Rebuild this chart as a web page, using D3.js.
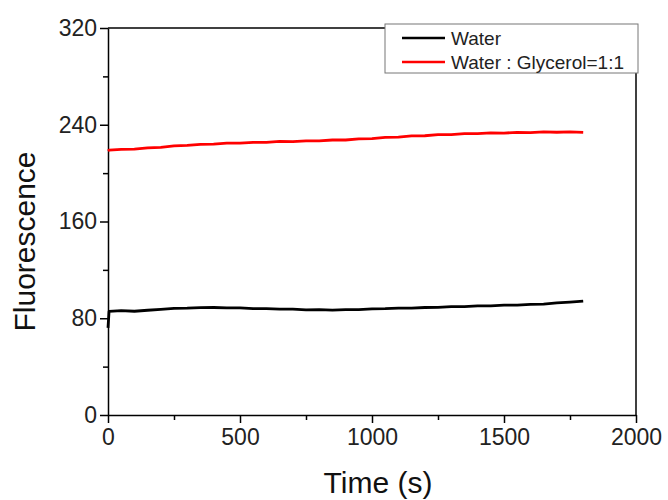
<!DOCTYPE html>
<html lang="en">
<head>
<meta charset="utf-8">
<title>Fluorescence vs Time</title>
<script src="https://cdn.jsdelivr.net/npm/d3@7"></script>
<style>
  body { margin: 0; background: #fff; }
  svg { font-family: "Liberation Sans", Arial, sans-serif; }
  .axis path, .axis line { stroke: #000; stroke-width: 1.5; }
  .axis text { font-size: 23px; fill: #222; font-family: "Liberation Sans", Arial, sans-serif; }
  .series { fill: none; stroke-width: 2.8; stroke-linejoin: round; }
</style>
</head>
<body>
<svg width="668" height="500"></svg>
<script>
// time points (s)
var times = [0, 4, 50, 100, 150, 200, 250, 300, 350, 400, 450, 500, 550, 600, 650, 700,
  750, 800, 850, 900, 950, 1000, 1050, 1100, 1150, 1200, 1250, 1300, 1350, 1400,
  1450, 1500, 1550, 1600, 1650, 1700, 1750, 1800];

var water = [72, 85.6, 86.3, 85.8, 86.6, 87.4, 88.1, 88.3, 88.8, 88.9, 88.5, 88.6, 88.0,
  88.0, 87.5, 87.5, 87.0, 87.1, 86.7, 87.1, 87.2, 87.7, 87.9, 88.4, 88.3, 88.9, 89.0,
  89.6, 89.6, 90.2, 90.3, 90.8, 90.8, 91.4, 91.7, 92.7, 93.3, 94.1];

var waterGlycerol = [218.3, 219.0, 219.6, 219.8, 220.9, 221.3, 222.6, 223.0, 223.8, 223.9,
  224.8, 224.8, 225.5, 225.4, 226.2, 226.0, 226.7, 226.6, 227.4, 227.4, 228.4, 228.6,
  229.6, 229.8, 230.8, 230.9, 231.8, 231.8, 232.6, 232.6, 233.2, 233.1, 233.7, 233.5,
  234.1, 233.8, 234.1, 233.7];

var seriesNames = ["Water", "Water : Glycerol=1:1"];
var seriesColors = ["#000000", "#ff0000"];

var xTicks = [0, 500, 1000, 1500, 2000];
var xMinor = [250, 750, 1250, 1750];
var yTicks = [0, 80, 160, 240, 320];
var yMinor = [40, 120, 200, 280];

var svg = d3.select("svg"),
    margin = {top: 28, right: 32, bottom: 85, left: 108},
    width = +svg.attr("width") - margin.left - margin.right,
    height = +svg.attr("height") - margin.top - margin.bottom,
    g = svg.append("g").attr("transform", "translate(" + margin.left + "," + margin.top + ")");

var x = d3.scaleLinear().domain([0, 2000]).range([0, width]);
var y = d3.scaleLinear().domain([0, 320]).range([height, 0]);

// frame top + right
g.append("line").attr("x1", 0).attr("x2", width).attr("y1", 0).attr("y2", 0)
  .attr("stroke", "#000").attr("stroke-width", 1.5);
g.append("line").attr("x1", width).attr("x2", width).attr("y1", 0).attr("y2", height)
  .attr("stroke", "#000").attr("stroke-width", 1.5);

// minor ticks
g.append("g").attr("class", "axis")
  .attr("transform", "translate(0," + height + ")")
  .call(d3.axisBottom(x).tickValues(xMinor).tickSize(5).tickFormat(""))
  .select(".domain").remove();
g.append("g").attr("class", "axis")
  .call(d3.axisLeft(y).tickValues(yMinor).tickSize(5).tickFormat(""))
  .select(".domain").remove();

// x axis
g.append("g")
  .attr("class", "axis")
  .attr("transform", "translate(0," + height + ")")
  .call(d3.axisBottom(x).tickValues(xTicks).tickFormat(d3.format("d"))
    .tickSize(8).tickSizeOuter(0).tickPadding(6));

// y axis
g.append("g")
  .attr("class", "axis")
  .call(d3.axisLeft(y).tickValues(yTicks).tickFormat(d3.format("d"))
    .tickSize(8).tickSizeOuter(0).tickPadding(3));

// lines
var line = d3.line()
  .x(function(d, i) { return x(times[i]); })
  .y(function(d) { return y(d); });

[water, waterGlycerol].forEach(function(s, i) {
  g.append("path")
    .attr("class", "series")
    .attr("stroke", seriesColors[i])
    .attr("d", line(s));
});

// axis titles
svg.append("text")
  .attr("transform", "translate(35," + (margin.top + height / 2 + 20) + ") rotate(-90)")
  .style("text-anchor", "middle")
  .style("font-size", "30px")
  .attr("fill", "#111")
  .text("Fluorescence");

svg.append("text")
  .attr("x", margin.left + width / 2 + 6)
  .attr("y", 493)
  .style("text-anchor", "middle")
  .style("font-size", "30px")
  .attr("fill", "#111")
  .text("Time (s)");

// legend
var legend = svg.append("g").attr("transform", "translate(385,24)");
legend.append("rect")
  .attr("width", 253).attr("height", 49)
  .attr("fill", "#fff").attr("stroke", "#777").attr("stroke-width", 1);
seriesNames.forEach(function(name, i) {
  legend.append("line")
    .attr("x1", 17).attr("x2", 60)
    .attr("y1", 14 + i * 24).attr("y2", 14 + i * 24)
    .attr("stroke", seriesColors[i]).attr("stroke-width", 2.5);
  legend.append("text")
    .attr("x", 66).attr("y", 21 + i * 24)
    .style("font-size", "19px")
    .attr("fill", "#222")
    .text(name);
});
</script>
</body>
</html>
